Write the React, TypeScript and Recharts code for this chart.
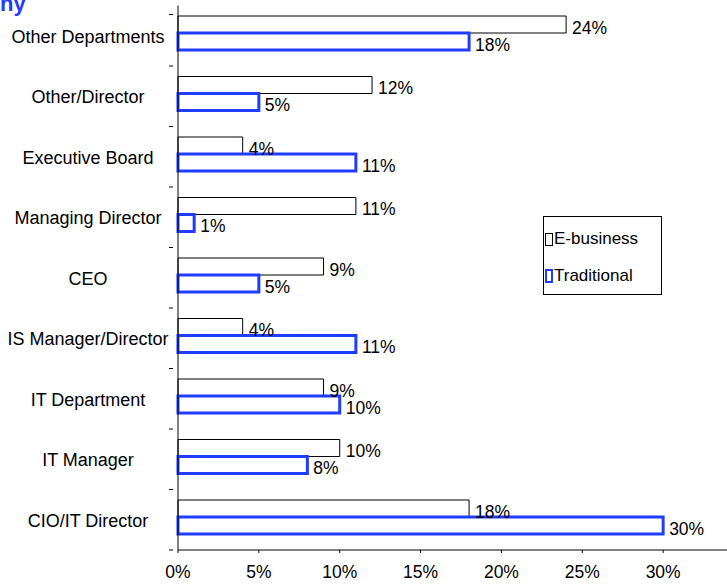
import React from "react";
import { BarChart, Bar, XAxis, YAxis, LabelList, Legend, Rectangle } from "recharts";

const categories = [
  "Other Departments",
  "Other/Director",
  "Executive Board",
  "Managing Director",
  "CEO",
  "IS Manager/Director",
  "IT Department",
  "IT Manager",
  "CIO/IT Director",
];
const eBusiness = [24, 12, 4, 11, 9, 4, 9, 10, 18];
const traditional = [18, 5, 11, 1, 5, 11, 10, 8, 30];
const xTicks = [0, 5, 10, 15, 20, 25, 30];

const data = categories.map((name, i) => ({
  name,
  eBusiness: eBusiness[i],
  traditional: traditional[i],
}));

const BLUE = "#1f3cff";
const FONT = "'Liberation Sans', Arial, sans-serif";
const SHIFT = -2.5;

const CategoryTick = (props: any) => {
  const { x, y, payload, index } = props;
  const half = 30.25;
  return (
    <g>
      <text
        x={88}
        y={y + 1}
        textAnchor="middle"
        dominantBaseline="central"
        fontSize={18}
        fill="#000"
        fontFamily={FONT}
      >
        {payload.value}
      </text>
      <line x1={x - 1} x2={x + 3} y1={y + half} y2={y + half} stroke="#000" />
      {index === 0 ? (
        <line x1={x - 1} x2={x + 3} y1={y - half + 9} y2={y - half + 9} stroke="#000" />
      ) : null}
    </g>
  );
};

const ShiftedBar = (props: any) => {
  const { x, y, width, height, fill, stroke, strokeWidth } = props;
  return (
    <Rectangle
      x={x}
      y={y + SHIFT}
      width={width}
      height={height}
      fill={fill}
      stroke={stroke}
      strokeWidth={strokeWidth}
    />
  );
};

const makeLabel = (gap: number) => (props: any) => {
  const { x, y, width, height, value } = props;
  return (
    <text
      x={x + width + gap}
      y={y + SHIFT + height / 2 + 3}
      dominantBaseline="central"
      fontSize={17.5}
      fill="#000"
      fontFamily={FONT}
    >
      {`${value}%`}
    </text>
  );
};
const ELabel = makeLabel(6);
const TLabel = makeLabel(6);

const LegendBox = () => (
  <div
    style={{
      width: 119,
      height: 79,
      border: "1px solid #000",
      background: "#fff",
      boxSizing: "border-box",
      fontFamily: FONT,
      fontSize: 17,
      color: "#000",
      position: "relative",
    }}
  >
    <div style={{ position: "absolute", left: 1, top: 12, display: "flex", alignItems: "center", whiteSpace: "nowrap" }}>
      <span style={{ display: "inline-block", width: 6, height: 11, border: "1px solid #000", background: "#fff", marginRight: 1 }} />
      <span>E-business</span>
    </div>
    <div style={{ position: "absolute", left: 1, top: 49, display: "flex", alignItems: "center", whiteSpace: "nowrap" }}>
      <span style={{ display: "inline-block", width: 4, height: 10, border: `2px solid ${BLUE}`, background: "#fff", marginRight: 1 }} />
      <span>Traditional</span>
    </div>
  </div>
);

export default function App() {
  return (
    <div
      style={{
        position: "absolute",
        left: 0,
        top: 0,
        width: 727,
        height: 587,
        overflow: "hidden",
        background: "#fff",
        fontFamily: FONT,
      }}
    >
      <div
        style={{
          position: "absolute",
          left: 0,
          top: -8,
          color: BLUE,
          fontWeight: "bold",
          fontSize: 22,
          fontFamily: FONT,
          lineHeight: "24px",
        }}
      >
        hy
      </div>
      <BarChart
        width={760}
        height={587}
        data={data}
        layout="vertical"
        margin={{ top: 5.5, right: 16, left: 0, bottom: 0 }}
        barGap={0}
        barSize={17}
      >
        <XAxis
          type="number"
          domain={[0, 35]}
          ticks={xTicks}
          tickFormatter={(v: number) => `${v}%`}
          height={37}
          tickSize={3}
          tickMargin={13}
          stroke="#000"
          tick={{ fill: "#000", fontSize: 17.5, fontFamily: FONT }}
          interval={0}
        />
        <YAxis
          type="category"
          dataKey="name"
          width={178}
          stroke="#000"
          tickLine={false}
          tick={<CategoryTick />}
          interval={0}
        />
        <Legend
          layout="vertical"
          align="center"
          verticalAlign="middle"
          wrapperStyle={{ position: "absolute", left: 543, top: 216, width: 119, height: 79 }}
          content={() => <LegendBox />}
        />
        <Bar
          dataKey="eBusiness"
          name="E-business"
          fill="#fff"
          stroke="#000"
          strokeWidth={1}
          shape={<ShiftedBar />}
          isAnimationActive={false}
        >
          <LabelList dataKey="eBusiness" content={<ELabel />} />
        </Bar>
        <Bar
          dataKey="traditional"
          name="Traditional"
          fill="#fff"
          stroke={BLUE}
          strokeWidth={3}
          shape={<ShiftedBar />}
          isAnimationActive={false}
        >
          <LabelList dataKey="traditional" content={<TLabel />} />
        </Bar>
      </BarChart>
    </div>
  );
}
